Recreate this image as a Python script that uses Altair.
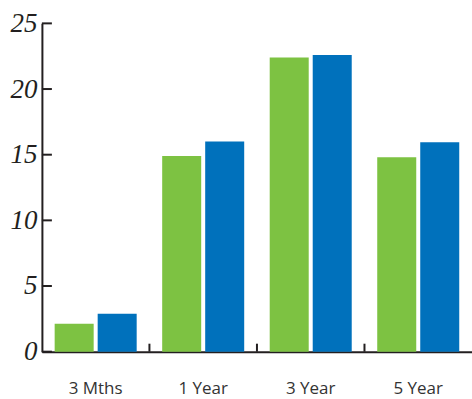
import altair as alt
import pandas as pd

categories = ["3 Mths", "1 Year", "3 Year", "5 Year"]
series = ["A", "B"]
values_a = [2.13, 14.9, 22.4, 14.8]
values_b = [2.88, 16.0, 22.6, 15.95]
y_ticks = [0, 5, 10, 15, 20, 25]

rows = []
for c, a, b in zip(categories, values_a, values_b):
    rows.append({"cat": c, "series": "A", "value": a})
    rows.append({"cat": c, "series": "B", "value": b})
df = pd.DataFrame(rows)
ticks_df = pd.DataFrame({"t": y_ticks})
cat_df = pd.DataFrame({"cat": categories[:-1]})

W, H = 431, 329
axis_color = "#231f20"

xscale = alt.Scale(domain=categories, paddingInner=0, paddingOuter=0)
yscale = alt.Scale(domain=[0, 25], nice=False)

bars = alt.Chart(df).mark_bar().encode(
    x=alt.X("cat:N", scale=xscale, sort=categories,
            axis=alt.Axis(title=None, labelAngle=0, ticks=False, domain=True,
                          domainColor=axis_color, domainWidth=2,
                          labelFont="Open Sans", labelFontSize=17,
                          labelColor="#333333", labelPadding=29)),
    xOffset=alt.XOffset("series:N", scale=alt.Scale(paddingInner=0.093, paddingOuter=0.2965)),
    y=alt.Y("value:Q", scale=yscale,
            axis=alt.Axis(title=None, values=y_ticks, ticks=False, grid=False,
                          domainColor=axis_color, domainWidth=2,
                          labelFont="Liberation Serif", labelFontStyle="italic",
                          labelFontSize=27, labelColor=axis_color,
                          labelPadding=5)),
    color=alt.Color("series:N", scale=alt.Scale(domain=series, range=["#7dc242", "#0071bc"]), legend=None),
)

ytick_rules = alt.Chart(ticks_df).mark_rule(color=axis_color, strokeWidth=2).encode(
    y=alt.Y("t:Q", scale=yscale),
    x=alt.value(0),
    x2=alt.value(10),
)

xtick_rules = alt.Chart(cat_df).mark_rule(color=axis_color, strokeWidth=2).encode(
    x=alt.X("cat:N", scale=xscale, sort=categories, bandPosition=1),
    y=alt.value(H - 8),
    y2=alt.value(H),
)

chart = alt.layer(bars, ytick_rules, xtick_rules).properties(
    width=W, height=H,
    autosize=alt.AutoSizeParams(type="none"),
    padding={"left": 42, "top": 23, "right": 0, "bottom": 47},
).configure_view(stroke=None).configure_axis(grid=False)

chart.save("out.html", embed_options={"renderer": "svg", "actions": False})
